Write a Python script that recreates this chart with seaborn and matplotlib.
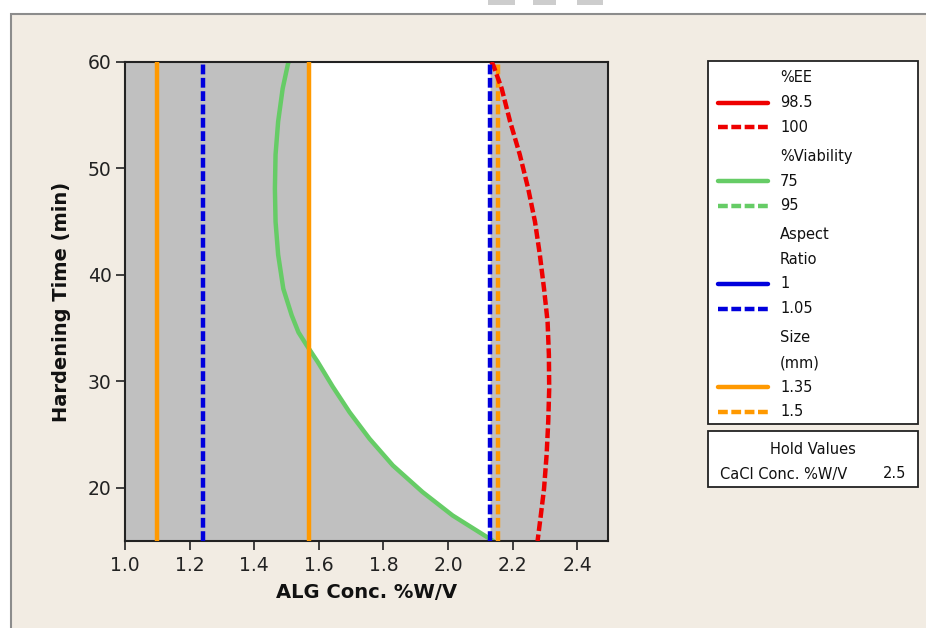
import numpy as np
import pandas as pd
import matplotlib
matplotlib.use("Agg")
import matplotlib.pyplot as plt
from matplotlib.lines import Line2D
from matplotlib.patches import Rectangle
import seaborn as sns

# ---- data ----
viab75_time = [60, 59.9, 57.5, 54.4, 51.3, 48.1, 45.0, 41.9, 38.7, 36.2, 34.6, 33.4,
               31.8, 29.5, 27.1, 24.6, 22.1, 19.6, 17.4, 15.4, 15.0]
viab75_alg = [1.507, 1.505, 1.488, 1.474, 1.466, 1.464, 1.466, 1.474, 1.490, 1.516, 1.537, 1.562,
              1.597, 1.643, 1.695, 1.757, 1.829, 1.921, 2.014, 2.119, 2.140]

ee100_time = [60, 59.7, 57.5, 54.4, 51.3, 48.1, 45.0, 41.9, 38.7, 35.6, 32.5, 29.3,
              26.2, 23.1, 19.9, 17.4, 15.0]
ee100_alg = [2.134, 2.140, 2.166, 2.192, 2.222, 2.248, 2.269, 2.284, 2.297, 2.308, 2.312, 2.313,
             2.310, 2.305, 2.297, 2.287, 2.277]

size135_alg = [1.10, 1.57]        # solid orange
size15_alg = [2.155]              # dashed orange
aspect105_alg = [1.24, 2.13]      # dashed blue

xticks = [1.0, 1.2, 1.4, 1.6, 1.8, 2.0, 2.2, 2.4]
yticks = [20, 30, 40, 50, 60]

legend_groups = [
    ("%EE", [("98.5", "#EE0000", "-"), ("100", "#EE0000", "--")]),
    ("%Viability", [("75", "#66CC66", "-"), ("95", "#66CC66", "--")]),
    ("Aspect\nRatio", [("1", "#0000DD", "-"), ("1.05", "#0000DD", "--")]),
    ("Size\n(mm)", [("1.35", "#FF9900", "-"), ("1.5", "#FF9900", "--")]),
]
hold_name = "CaCl Conc. %W/V"
hold_value = "2.5"

# ---- style ----
sns.set_style("ticks")
plt.rcParams["font.family"] = ["DejaVu Sans"]
plt.rcParams["text.color"] = "#111111"

BEIGE = "#F2ECE3"
GRAY = "#C0C0C0"
W, H = 926, 628
fig = plt.figure(figsize=(W / 100, H / 100), dpi=100)
fig.patch.set_facecolor("white")

# window frame
fig.add_artist(Rectangle((11 / W, -0.01), 1.1, 1 - 14 / H + 0.01, transform=fig.transFigure,
                         facecolor=BEIGE, edgecolor="#8C8C8C", linewidth=1.5, zorder=0))
for x0, x1 in [(488, 515), (533, 556), (577, 603)]:
    fig.add_artist(Rectangle((x0 / W, 1 - 5 / H), (x1 - x0) / W, 5 / H, transform=fig.transFigure,
                             facecolor="#CDCDCD", edgecolor="none", zorder=0))

ax = fig.add_axes([125 / W, 1 - 541 / H, (608 - 125) / W, (541 - 62) / H])
ax.set_facecolor(GRAY)
ax.set_xlim(1.0, 2.495)
ax.set_ylim(15, 60)

# feasible (white) region
vt = np.array(viab75_time)
va = np.array(viab75_alg)
left = np.maximum(va, size135_alg[1])
ax.fill_betweenx(vt, left, aspect105_alg[1], color="white", zorder=1, linewidth=0)

LW = 3.2
dash = (0, (2.2, 0.8))
for xv in size135_alg:
    ax.axvline(xv, color="#FF9900", lw=LW, zorder=3)
for xv in aspect105_alg:
    ax.axvline(xv, color="#0000DD", lw=LW, ls=dash, zorder=4)
for xv in size15_alg:
    ax.axvline(xv, color="#FF9900", lw=LW, ls=dash, zorder=3)

df_v = pd.DataFrame({"alg": viab75_alg, "time": viab75_time})
sns.lineplot(data=df_v, x="alg", y="time", sort=False, orient="y", color="#66CC66",
             lw=LW, ax=ax, zorder=2)
df_e = pd.DataFrame({"alg": ee100_alg, "time": ee100_time})
sns.lineplot(data=df_e, x="alg", y="time", sort=False, orient="y", color="#EE0000",
             lw=LW, ls=dash, ax=ax, zorder=3)

ax.set_xticks(xticks)
ax.set_xticklabels([f"{v:.1f}" for v in xticks])
ax.set_yticks(yticks)
ax.tick_params(axis="both", direction="out", length=6.5, width=1.2, labelsize=13.5,
               colors="#222222")
ax.tick_params(axis="x", pad=4.5)
ax.tick_params(axis="y", pad=3)
for s in ax.spines.values():
    s.set_color("#222222")
    s.set_linewidth(1.5)
ax.set_xlabel("ALG Conc. %W/V", fontsize=14, fontweight="bold", color="#111111")
ax.set_ylabel("Hardening Time (min)", fontsize=14, fontweight="bold", color="#111111")
ax.xaxis.set_label_coords(0.5, -0.088)
ax.yaxis.set_label_coords(-0.112, 0.5)

# ---- legend box (drawn manually) ----
def fx(px):
    return px / W

def fy(py):
    return 1 - py / H

fig.add_artist(Rectangle((fx(708), fy(424)), fx(918) - fx(708), fy(61) - fy(424),
                         transform=fig.transFigure, facecolor="white", edgecolor="#222222",
                         linewidth=1.3, zorder=5))
ypos = 78
for title, entries in legend_groups:
    for tline in title.split("\n"):
        fig.text(fx(780), fy(ypos), tline, fontsize=10.5, va="center", ha="left", zorder=6)
        ypos += 24.5
    for label, col, ls in entries:
        fig.add_artist(Line2D([fx(718), fx(768)], [fy(ypos), fy(ypos)], transform=fig.transFigure,
                              color=col, lw=LW, ls=(dash if ls == "--" else "-"), zorder=6))
        fig.text(fx(780), fy(ypos), label, fontsize=10.5, va="center", ha="left", zorder=6)
        ypos += 24.5
    ypos += 5

fig.add_artist(Rectangle((fx(708), fy(487)), fx(918) - fx(708), fy(431) - fy(487),
                         transform=fig.transFigure, facecolor="white", edgecolor="#222222",
                         linewidth=1.3, zorder=5))
fig.text(fx(813), fy(450), "Hold Values", fontsize=10.5, va="center", ha="center", zorder=6)
fig.text(fx(720), fy(474), hold_name, fontsize=10.5, va="center", ha="left", zorder=6)
fig.text(fx(906), fy(474), hold_value, fontsize=10.5, va="center", ha="right", zorder=6)

fig.savefig("out.png", dpi=100)
